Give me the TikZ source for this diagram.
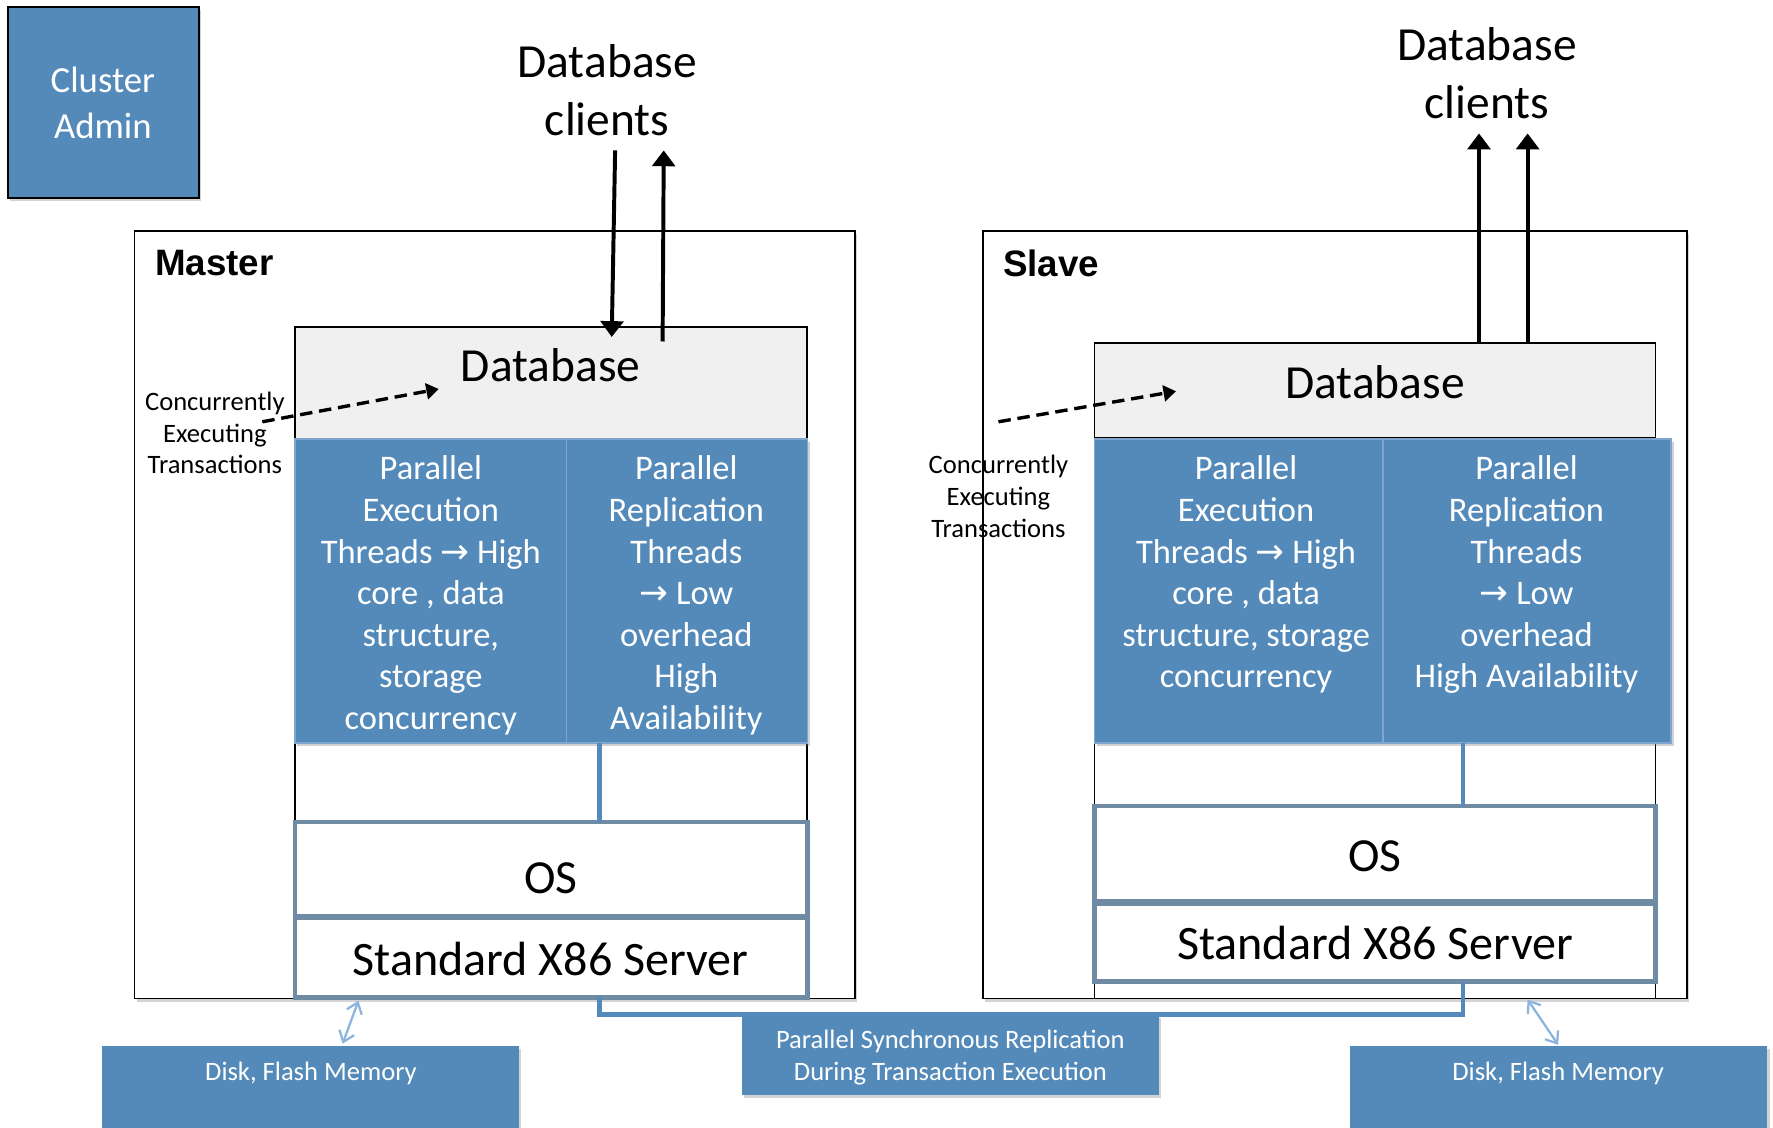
\documentclass[tikz,border=0pt]{standalone}
\usepackage{fontspec}
\setmainfont{Carlito}
\newfontfamily\hdfont{Liberation Sans}
\newfontfamily\symfont{DejaVu Sans}
\usetikzlibrary{arrows.meta,shadows,calc}
\definecolor{bluefill}{RGB}{84,138,186}
\definecolor{blueedge}{RGB}{126,166,206}
\definecolor{grayfill}{RGB}{240,240,240}
\definecolor{osedge}{RGB}{111,139,164}
\definecolor{connblue}{RGB}{84,136,190}
\definecolor{lightarr}{RGB}{141,180,220}
\newcommand\myarr{{\symfont\char"2192}}
\begin{document}
\begin{tikzpicture}[x=1pt,y=-1pt,
  rect/.style={rectangle,inner sep=0pt,outer sep=0pt,anchor=north west},
  shad/.style={drop shadow={opacity=0.35,shadow xshift=2pt,shadow yshift=-3pt}},
  outerbox/.style={rect,draw=black,line width=1.6pt,fill=white,shad},
  contbox/.style={rect,draw=black,line width=1.6pt,fill=white},
  dbbox/.style={rect,draw=black,line width=1.6pt,fill=grayfill},
  bluebox/.style={rect,draw=blueedge,line width=1.4pt,fill=bluefill,shad},
  osbox/.style={rect,draw=osedge,line width=4pt,fill=white},
  infobox/.style={rect,fill=bluefill,shad},
  bigtxt/.style={font=\fontsize{42}{51}\selectfont,align=center,inner sep=0pt},
  whitetxt/.style={text=white,font=\fontsize{30.5}{36.8}\selectfont,align=center,inner sep=0pt,anchor=north},
  smalltxt/.style={font=\fontsize{23.5}{28}\selectfont,align=center,inner sep=0pt},
  smallwhite/.style={text=white,font=\fontsize{23.5}{28}\selectfont,align=center,inner sep=0pt},
  blkarr/.style={line width=3.5pt,-{Triangle[width=20pt,length=14pt]}},
  dasharr/.style={line width=3pt,dash pattern=on 11pt off 6pt,-{Triangle[width=14pt,length=11pt]}},
  conn/.style={draw=connblue,line width=4pt},
  lightdbl/.style={draw=lightarr,line width=2pt,{Straight Barb[length=9pt,width=14pt]}-{Straight Barb[length=9pt,width=14pt]}}
]
\useasboundingbox (0,0) rectangle (1568,997);

% Cluster admin
\node[rect,draw=black,line width=2.2pt,fill=bluefill,shad,minimum width=169pt,minimum height=169pt] (admin) at (7,6) {};
\node[text=white,font=\fontsize{32.5}{40}\selectfont,align=center,inner sep=0pt] (admint) at (91,91) {Cluster\\Admin};

% ---------------- Master ----------------
\node[outerbox,minimum width=637pt,minimum height=679pt] (master) at (119,204) {};
\node[anchor=west,inner sep=0pt,font=\hdfont\bfseries\fontsize{32.5}{38}\selectfont] (mastert) at (137,233) {Master};
\node[contbox,minimum width=453pt,minimum height=593pt] (contM) at (261,289) {};
\node[dbbox,minimum width=453pt,minimum height=99pt] (dbM) at (261,289) {};
\node[bigtxt] (dbMt) at (487,323) {Database};
\node[bluebox,minimum width=240pt,minimum height=269pt] (peM) at (261,388) {};
\node[bluebox,minimum width=213pt,minimum height=269pt] (prM) at (501,388) {};
\node[whitetxt] (peMt) at (381,403) {Parallel\\Execution\\Threads \myarr{} High\\core , data\\structure,\\storage\\concurrency};
\node[whitetxt] (prMt) at (607,403) {Parallel\\Replication\\Threads\\\myarr{} Low\\overhead\\High\\Availability};
\node[osbox,minimum width=453pt,minimum height=83pt] (osM) at (261,727) {};
\node[bigtxt] (osMt) at (487,777) {OS};
\node[osbox,minimum width=453pt,minimum height=70pt] (srvM) at (261,812) {};
\node[bigtxt,font=\fontsize{42.5}{50}\selectfont] (srvMt) at (487,848) {Standard X86 Server};
\draw[conn] (prM.south west -| 530,0) -- (osM.north -| 530,0);

% clients (master)
\node[bigtxt] (cliM) at (537,80) {Database\\clients};
\coordinate (cliMin) at (544,133);
\coordinate (cliMout) at (587,133);
\draw[blkarr] (cliMin) -- ($(dbM.north west)+(280,9)$);
\draw[blkarr] ($(dbM.north west)+(325,13)$) -- (cliMout);

% concurrent (master)
\node[smalltxt] (ccM) at (190,383) {Concurrently\\Executing\\Transactions};
\coordinate (ccMs) at (232,373);
\draw[dasharr] (ccMs) -- ($(dbM.north west)+(127,55)$);

% ---------------- Slave ----------------
\node[outerbox,minimum width=623pt,minimum height=679pt] (slave) at (869,204) {};
\node[anchor=west,inner sep=0pt,font=\hdfont\bfseries\fontsize{32.5}{38}\selectfont] (slavet) at (887,233) {Slave};
\node[contbox,minimum width=496pt,minimum height=580pt] (contS) at (968,303) {};
\node[dbbox,minimum width=496pt,minimum height=84pt] (dbS) at (968,303) {};
\node[bigtxt] (dbSt) at (1216,338) {Database};
\node[bluebox,minimum width=255pt,minimum height=269pt] (peS) at (968,388) {};
\node[bluebox,minimum width=255pt,minimum height=269pt] (prS) at (1223,388) {};
\node[whitetxt] (peSt) at (1102,403) {Parallel\\Execution\\Threads \myarr{} High\\core , data\\structure, storage\\concurrency};
\node[whitetxt] (prSt) at (1350,403) {Parallel\\Replication\\Threads\\\myarr{} Low\\overhead\\High Availability};
\node[osbox,minimum width=496pt,minimum height=84pt] (osS) at (968,713) {};
\node[bigtxt] (osSt) at (1216,757) {OS};
\node[osbox,minimum width=496pt,minimum height=69pt] (srvS) at (968,799) {};
\node[bigtxt,font=\fontsize{42.5}{50}\selectfont] (srvSt) at (1216,834) {Standard X86 Server};
\draw[conn] (prS.south west -| 1294,0) -- (osS.north -| 1294,0);

% clients (slave)
\node[bigtxt] (cliS) at (1315,65) {Database\\clients};
\coordinate (cliSa) at (1308,118);
\coordinate (cliSb) at (1351,118);
\draw[blkarr] (dbS.north -| 1308,0) -- (cliSa);
\draw[blkarr] (dbS.north -| 1351,0) -- (cliSb);

% concurrent (slave)
\node[smalltxt] (ccS) at (883,439) {Concurrently\\Executing\\Transactions};
\coordinate (ccSs) at (883,373);
\draw[dasharr] (ccSs) -- ($(dbS.north west)+(72,43)$);

% ---------------- Replication ----------------
\draw[conn] (srvM.south -| 530,0) -- (530,897) -- (1294,897) -- (srvS.south -| 1294,0);
\node[infobox,minimum width=369pt,minimum height=71pt] (repl) at (656,897) {};
\node[smallwhite] (replt) at (840.5,935) {Parallel Synchronous Replication\\During Transaction Execution};

% Disks
\node[infobox,minimum width=369pt,minimum height=80pt] (diskL) at (90,925) {};
\node[smallwhite] (diskLt) at (275,949) {Disk, Flash Memory};
\node[infobox,minimum width=369pt,minimum height=80pt] (diskR) at (1194,925) {};
\node[smallwhite] (diskRt) at (1378,949) {Disk, Flash Memory};
\draw[lightdbl] ($(srvM.south west)+(56,3)$) -- ($(diskL.north west)+(213,-2)$);
\draw[lightdbl] ($(slave.south west)+(482,1)$) -- ($(diskR.north west)+(184,-1)$);
\end{tikzpicture}
\end{document}
